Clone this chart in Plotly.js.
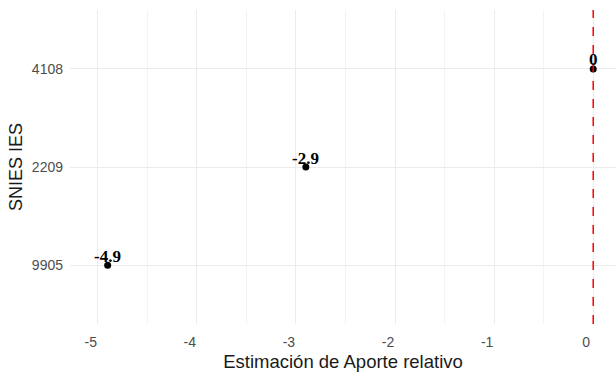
<!DOCTYPE html>
<html>
<head>
<meta charset="utf-8">
<script src="https://cdn.plot.ly/plotly-3.0.1.min.js"></script>
<style>html,body{margin:0;padding:0;background:#fff;}#chart{width:616px;height:377px;}</style>
</head>
<body>
<div id="chart"></div>
<script>
const categories = ['9905', '2209', '4108'];
const estimates = [-4.9, -2.9, 0];
const labels = ['-4.9', '-2.9', '0'];
const refLine = 0;
const xTicks = [-5, -4, -3, -2, -1, 0];

const trace = {
  type: 'scatter',
  mode: 'markers',
  x: estimates,
  y: categories,
  marker: {color: '#000', size: 7, symbol: 'circle'},
  cliponaxis: false,
  hoverinfo: 'skip'
};

// category axes take the category position (index) for annotations
const annotations = estimates.map((v, i) => ({
  x: v, y: categories.indexOf(categories[i]), xref: 'x', yref: 'y',
  text: labels[i], showarrow: false,
  xanchor: 'center', yanchor: 'middle', yshift: 9,
  font: {family: 'Liberation Serif, Times New Roman, serif', size: 17, color: '#000', weight: 'bold'}
}));

const layout = {
  width: 616, height: 377,
  margin: {l: 70, r: 0, t: 10, b: 53},
  paper_bgcolor: '#fff', plot_bgcolor: '#fff',
  showlegend: false,
  font: {family: 'Liberation Sans, Arial, sans-serif'},
  xaxis: {
    range: [-5.28, 0.23],
    tickvals: xTicks,
    ticktext: xTicks.map(String),
    showgrid: true, gridcolor: '#EBEBEB', gridwidth: 1,
    minor: {dtick: 0.5, tick0: 0, showgrid: true, gridcolor: '#EBEBEB', gridwidth: 0.6},
    zeroline: false, showline: false, ticks: '',
    ticklabelstandoff: 8,
    ticklabelshift: -7,
    tickfont: {size: 14, color: '#4D4D4D'},
    title: {text: 'Estimación de Aporte relativo', font: {size: 18.5, color: '#1a1a1a'}, standoff: 6},
    automargin: false
  },
  yaxis: {
    type: 'category',
    categoryorder: 'array',
    categoryarray: categories,
    range: [-0.6, 2.6],
    showgrid: true, gridcolor: '#EBEBEB', gridwidth: 1,
    zeroline: false, showline: false, ticks: '',
    ticklabelstandoff: 6,
    tickfont: {size: 14, color: '#4D4D4D'},
    title: {text: 'SNIES IES', font: {size: 18, color: '#1a1a1a'}, standoff: 4},
    automargin: false
  },
  annotations: annotations,
  shapes: [{
    type: 'line', xref: 'x', yref: 'paper',
    x0: refLine, x1: refLine, y0: 0, y1: 1,
    line: {color: '#FF0000', width: 1.5, dash: 'dash'}
  }]
};

Plotly.newPlot('chart', [trace], layout, {displayModeBar: false, staticPlot: true});
</script>
</body>
</html>
